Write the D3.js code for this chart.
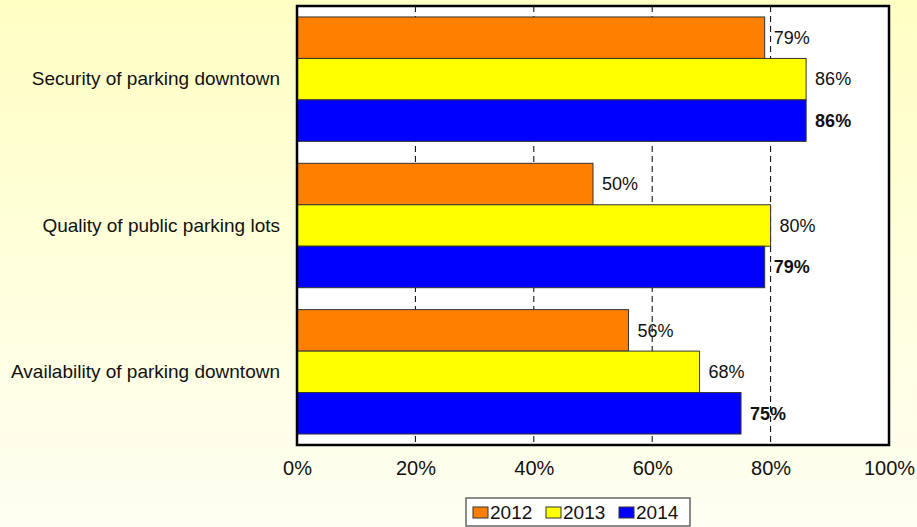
<!DOCTYPE html>
<html>
<head>
<meta charset="utf-8">
<script src="https://cdn.jsdelivr.net/npm/d3@7"></script>
<style>
  html, body { margin: 0; padding: 0; }
  svg { display: block; }
  text { font-family: "Liberation Sans", Arial, sans-serif; fill: #111; }
</style>
</head>
<body>
<svg id="chart" width="917" height="527"></svg>
<script>
// Parking satisfaction by year
const categories = ["Security of parking downtown", "Quality of public parking lots", "Availability of parking downtown"];
const years = ["2012", "2013", "2014"];
const values2012 = [79, 50, 56];
const values2013 = [86, 80, 68];
const values2014 = [86, 79, 75];
const tickValues = [0, 20, 40, 60, 80, 100];
const colors = ["#FF8000", "#FFFF00", "#0000FF"];

const seriesValues = [values2012, values2013, values2014];

const svg = d3.select("#chart");
const W = 917, H = 527;
const plot = { left: 297, right: 889, top: 6, bottom: 445 };

// background gradient
const defs = svg.append("defs");
const grad = defs.append("linearGradient").attr("id", "bg").attr("x1", 0).attr("y1", 0).attr("x2", 0).attr("y2", 1);
grad.append("stop").attr("offset", "0%").attr("stop-color", "#FFFFC4");
grad.append("stop").attr("offset", "100%").attr("stop-color", "#FEFEF2");
svg.append("rect").attr("width", W).attr("height", H).attr("fill", "url(#bg)");

const x = d3.scaleLinear().domain([0, 100]).range([plot.left, plot.right]);
const y = d3.scaleBand().domain(categories).range([plot.top, plot.bottom])
  .paddingInner(0.15).paddingOuter(0.075);
const ySub = d3.scaleBand().domain(years).range([0, y.bandwidth()]);

// plot area
svg.append("rect")
  .attr("x", plot.left).attr("y", plot.top)
  .attr("width", plot.right - plot.left).attr("height", plot.bottom - plot.top)
  .attr("fill", "#fff");

// dashed vertical gridlines
svg.append("g").selectAll("line")
  .data(tickValues.filter(t => t > 0 && t < 100))
  .join("line")
  .attr("x1", d => x(d)).attr("x2", d => x(d))
  .attr("y1", plot.top).attr("y2", plot.bottom)
  .attr("stroke", "#000").attr("stroke-width", 1)
  .attr("stroke-dasharray", "6,4");

// bars
const rows = [];
categories.forEach((c, i) => {
  years.forEach((yr, j) => rows.push({ cat: c, year: yr, si: j, value: seriesValues[j][i] }));
});

const bars = svg.append("g");
bars.selectAll("rect").data(rows).join("rect")
  .attr("x", x(0))
  .attr("y", d => y(d.cat) + ySub(d.year))
  .attr("width", d => x(d.value) - x(0))
  .attr("height", ySub.bandwidth())
  .attr("fill", d => colors[d.si])
  .attr("stroke", "#333")
  .attr("stroke-width", 1);

// value labels (latest year in bold)
svg.append("g").selectAll("text").data(rows).join("text")
  .attr("x", d => x(d.value) + 9)
  .attr("y", d => y(d.cat) + ySub(d.year) + ySub.bandwidth() / 2)
  .attr("dy", "0.35em")
  .attr("font-size", 18)
  .attr("font-weight", d => d.si === 2 ? "bold" : "normal")
  .text(d => d.value + "%");

// plot border
svg.append("rect")
  .attr("x", plot.left).attr("y", plot.top)
  .attr("width", plot.right - plot.left).attr("height", plot.bottom - plot.top)
  .attr("fill", "none").attr("stroke", "#000").attr("stroke-width", 2.5);

// category axis labels
const yAxis = svg.append("g")
  .attr("transform", `translate(${plot.left},0)`)
  .call(d3.axisLeft(y).tickSize(0).tickPadding(17));
yAxis.select(".domain").remove();
yAxis.selectAll("text").attr("font-size", 19).attr("font-family", "Liberation Sans, Arial, sans-serif").attr("fill", "#111");

// x axis tick labels
const xAxis = svg.append("g")
  .attr("transform", `translate(0,${plot.bottom})`)
  .call(d3.axisBottom(x).tickValues(tickValues).tickSize(0).tickPadding(16).tickFormat(d => d + "%"));
xAxis.select(".domain").remove();
xAxis.selectAll("text").attr("font-size", 20).attr("font-family", "Liberation Sans, Arial, sans-serif").attr("fill", "#111");

// legend
const legend = svg.append("g");
legend.append("rect")
  .attr("x", 466).attr("y", 498).attr("width", 224).attr("height", 28)
  .attr("fill", "#fff").attr("stroke", "#666").attr("stroke-width", 1.5);
const legendX = [473, 546, 619];
years.forEach((yr, i) => {
  legend.append("rect")
    .attr("x", legendX[i]).attr("y", 507).attr("width", 15).attr("height", 11)
    .attr("fill", colors[i]).attr("stroke", "#333").attr("stroke-width", 1);
  legend.append("text")
    .attr("x", legendX[i] + 17).attr("y", 512.5).attr("dy", "0.35em")
    .attr("font-size", 19).text(yr);
});
</script>
</body>
</html>
